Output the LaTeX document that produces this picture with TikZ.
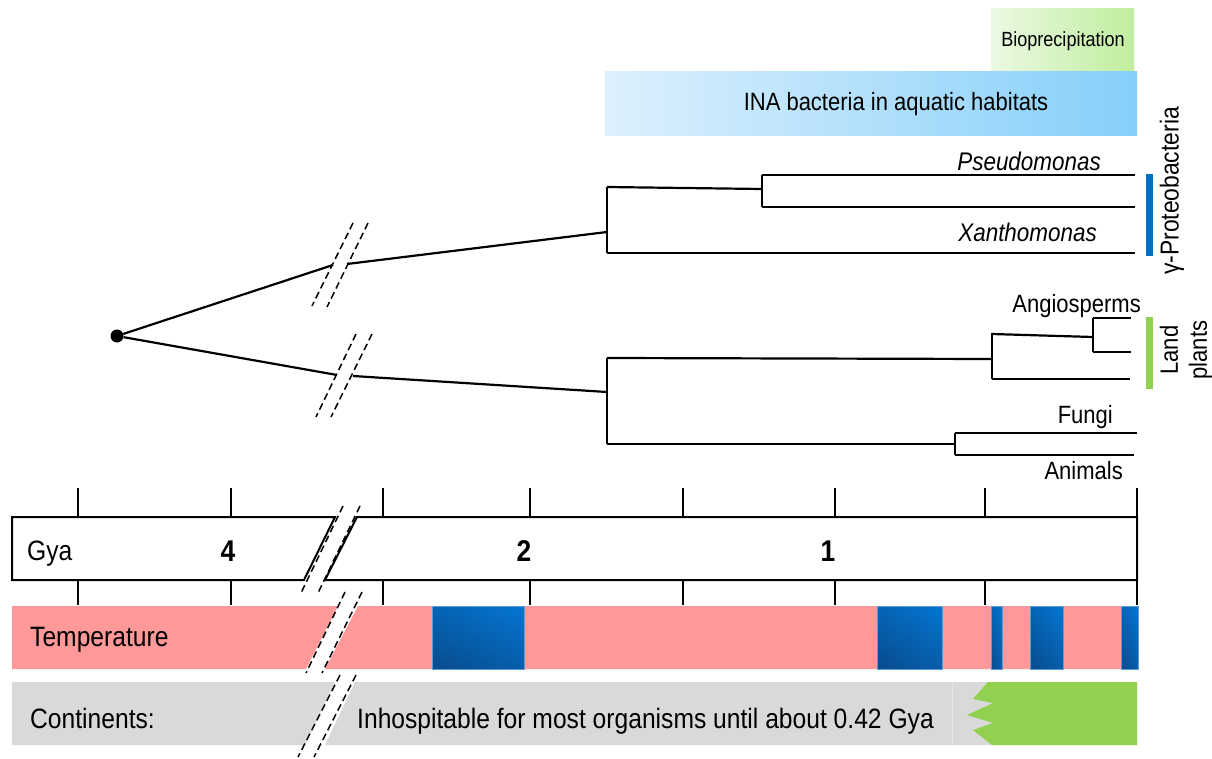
\documentclass[tikz,border=0pt]{standalone}
\usepackage{fontspec}
\setmainfont{Liberation Sans}[FakeStretch=0.88]
\usetikzlibrary{arrows.meta}
\definecolor{pinkT}{HTML}{FF9999}
\definecolor{grayC}{HTML}{D9D9D9}
\definecolor{grayE}{HTML}{E6E6E6}
\definecolor{greenC}{HTML}{92D050}
\definecolor{barBlue}{HTML}{0070C0}
\definecolor{coldD}{HTML}{0B4684}
\definecolor{coldM}{HTML}{0064B6}
\definecolor{coldL}{HTML}{0476D2}
\definecolor{coldE}{HTML}{5E9AD6}
\definecolor{inaL}{HTML}{DDF0FD}
\definecolor{inaR}{HTML}{85CFF9}
\definecolor{bioL}{HTML}{EBF8E3}
\definecolor{bioR}{HTML}{C0EE9E}
\begin{document}
\begin{tikzpicture}[x=1pt,y=-1pt,
  tree/.style={line width=2.2pt},
  brk/.style={line width=1.5pt, dash pattern=on 7pt off 4pt},
  tickln/.style={line width=2pt},
  gbox/.style={draw=black, line width=2pt, fill=white, line join=miter},
  lbl/.style={inner sep=0pt, font=\fontsize{25}{30}\selectfont},
  blbl/.style={inner sep=0pt, font=\fontsize{28}{33}\selectfont},
  numlbl/.style={inner sep=0pt, font=\fontsize{30}{34}\selectfont\bfseries},
  coldh/.style={left color=coldD!60!coldM, right color=coldL},
  coldv/.style={top color=coldL, bottom color=coldD, opacity=0.5},
  coldrim/.style={draw=coldE, line width=0.6pt},
]
\useasboundingbox (0,0) rectangle (1212,759);
\fill[white] (0,0) rectangle (1212,759);

% ---- top boxes
\shade[left color=bioL, right color=bioR] (991,9) rectangle (1134,72);
\node[inner sep=0pt, font=\fontsize{20.5}{24}\selectfont] (bio) at (1063,41) {Bioprecipitation};
\shade[left color=inaL, right color=inaR] (605,72) rectangle (1137,136);
\node[lbl] (ina) at (896,104) {INA bacteria in aquatic habitats};

% ---- tree
\node[circle, fill=black, inner sep=0pt, minimum size=13pt] (root) at (117,336) {};
\coordinate (ub1) at (333,265);
\coordinate (ub2) at (347,264);
\coordinate (lb1) at (337,375);
\coordinate (lb2) at (353,376);
\coordinate (uA) at (607,232);
\coordinate (lA) at (607,392);
\draw[tree] (root) -- (ub1);
\draw[tree] (ub2) -- (uA);
\draw[tree] (root) -- (lb1);
\draw[tree] (lb2) -- (lA);

% upper clade
\coordinate (uT) at (607,187);
\coordinate (uB) at (607,253);
\coordinate (pN) at (762,189);
\coordinate (pT) at (762,175);
\coordinate (pB) at (762,207);
\coordinate (pseE) at (1135,175);
\coordinate (p2E) at (1135,207);
\coordinate (xanE) at (1135,253);
\draw[tree] (uT) -- (uB);
\draw[tree] (uT) -- (pN);
\draw[tree] (pT) -- (pB);
\draw[tree] (pT) -- (pseE);
\draw[tree] (pB) -- (p2E);
\draw[tree] (uB) -- (xanE);

% lower clade
\coordinate (lT) at (607,358);
\coordinate (lB) at (607,444);
\coordinate (pl) at (992,359);
\coordinate (plT) at (992,333);
\coordinate (plB) at (992,379);
\coordinate (an) at (1093,337);
\coordinate (anT) at (1093,318);
\coordinate (anB) at (1093,352);
\coordinate (anTE) at (1131,318);
\coordinate (anBE) at (1131,352);
\coordinate (plBE) at (1130,379);
\coordinate (fa) at (955,444);
\coordinate (faT) at (955,433);
\coordinate (faB) at (955,455);
\coordinate (fuE) at (1137,433);
\coordinate (amE) at (1134,455);
\draw[tree] (lT) -- (lB);
\draw[tree] (lT) -- (pl);
\draw[tree] (plT) -- (plB);
\draw[tree] (992,334) -- (an);
\draw[tree] (anT) -- (anB);
\draw[tree] (anT) -- (anTE);
\draw[tree] (anB) -- (anBE);
\draw[tree] (plB) -- (plBE);
\draw[tree] (lB) -- (fa);
\draw[tree] (faT) -- (faB);
\draw[tree] (faT) -- (fuE);
\draw[tree] (faB) -- (amE);

% tree breaks
\draw[brk] (353,223) -- (312,306);
\draw[brk] (368,223) -- (327,307);
\draw[brk] (356,334) -- (316,417);
\draw[brk] (372,334) -- (331,417);

% labels
\node[lbl, anchor=base east, font=\fontsize{25.5}{30}\selectfont\itshape] (pse) at (1101,171) {Pseudomonas};
\node[lbl, anchor=base east, font=\fontsize{25.5}{30}\selectfont\itshape] (xan) at (1097,242) {Xanthomonas};
\node[lbl, anchor=base east] (ang) at (1141,312) {Angiosperms};
\node[lbl, anchor=base east] (fun) at (1113,423) {Fungi};
\node[lbl, anchor=base east] (ani) at (1123,479) {Animals};

\fill[barBlue] (1146,174) rectangle (1153,256);
\fill[greenC] (1146,317) rectangle (1153,389);
\node[lbl, rotate=90, font=\fontsize{26}{30}\selectfont] (gam) at (1172,191) {γ-Proteobacteria};
\node[lbl, rotate=90, align=center, font=\fontsize{25}{29}\selectfont] (land) at (1186,350) {Land\\plants};

% ---- time scale
\foreach \tx in {78,231,383,530,683,835,985,1137}{
  \draw[tickln] (\tx,488) -- (\tx,517);
  \draw[tickln] (\tx,580) -- (\tx,605);
}
\draw[gbox] (12,517) -- (335,517) -- (304,580) -- (12,580) -- cycle;
\draw[gbox] (357,517) -- (1137,517) -- (1137,580) -- (325,580) -- cycle;
\node[blbl, anchor=base west] (gya) at (27,560) {Gya};
\node[numlbl, anchor=base] (n4) at (228,561) {4};
\node[numlbl, anchor=base] (n2) at (524,561) {2};
\node[numlbl, anchor=base] (n1) at (828,561) {1};

% temperature
\fill[pinkT] (12,606) -- (338,606) -- (306,669) -- (12,669) -- cycle;
\fill[pinkT] (358,606) -- (1137,606) -- (1137,669) -- (325,669) -- cycle;
\foreach \xa/\xb in {432/524, 877/942, 991/1002, 1030/1063, 1121/1138}{
  \shade[coldh] (\xa,606) rectangle (\xb,669);
  \shade[coldv] (\xa,606) rectangle (\xb,669);
  \draw[coldrim] (\xa,606) rectangle (\xb,669);
}
\node[blbl, anchor=base west] (temp) at (30,646) {Temperature};

% continents
\fill[grayC] (12,682) -- (335,682) -- (305,745) -- (12,745) -- cycle;
\fill[grayC] (355,682) -- (1137,682) -- (1137,745) -- (325,745) -- cycle;
\draw[grayE, line width=0.8pt] (952,682) -- (952,745);
\fill[greenC] (988,682) -- (1137,682) -- (1137,745) -- (992,745) -- (973,730) -- (993,723) -- (967,715) -- (993,703) -- (973,699) -- cycle;
\node[blbl, anchor=base west] (cont) at (30,728) {Continents:};
\node[blbl, anchor=base west] (inh) at (357,728) {Inhospitable for most organisms until about 0.42 Gya};

% breaks in scale rows
\draw[brk] (343,506) -- (301,593);
\draw[brk] (360,506) -- (318,593);
\draw[brk] (345,592) -- (306,673);
\draw[brk] (362,592) -- (322,673);
\draw[brk] (340,675) -- (298,757);
\draw[brk] (356,675) -- (314,757);
\end{tikzpicture}
\end{document}
